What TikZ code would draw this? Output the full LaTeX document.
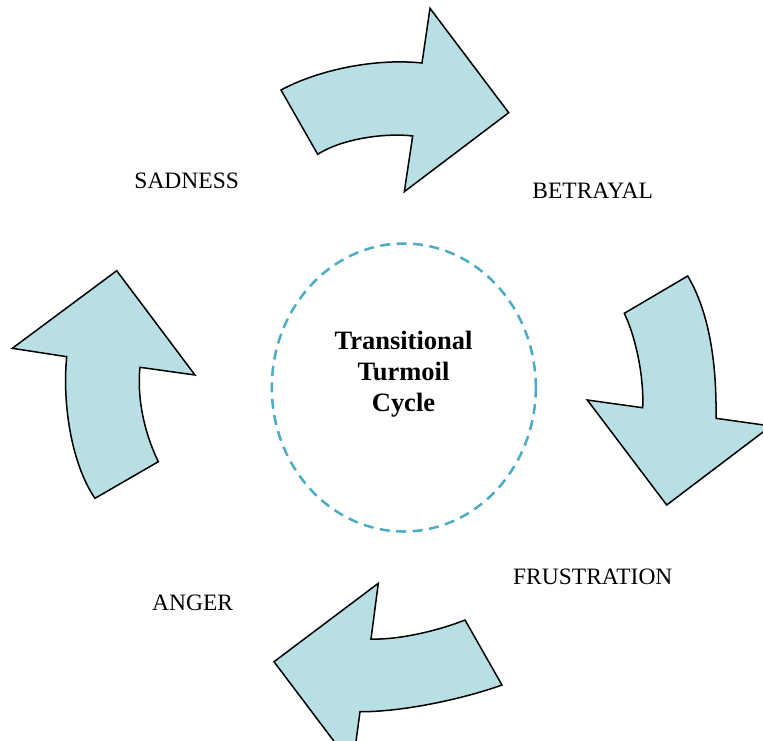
\documentclass[tikz,border=0pt]{standalone}
\usepackage{fontspec}
\setmainfont{Liberation Serif}
\usepackage{xcolor}
\definecolor{arrowfill}{HTML}{B8DFE3}
\definecolor{ringblue}{HTML}{4BACC6}
\usetikzlibrary{positioning}

\begin{document}
\begin{tikzpicture}[x=1pt, y=-1pt,
  cyclearrow/.style={draw=black, line width=1.5pt, line join=miter, fill=arrowfill},
  stagelabel/.style={font=\fontsize{23.5}{28}\selectfont, inner sep=0pt}]
\useasboundingbox (0,0) rectangle (763,740);
\clip (0,0) rectangle (763,740);
% centre ring
\draw[ringblue, line width=2.5pt, dash pattern=on 10pt off 6.5pt] (403.8,387.5) ellipse [x radius=132, y radius=144];
\node[font=\fontsize{26.5}{31}\selectfont\bfseries, align=center] (cycle) at (403.5,374)
  {Transitional\\Turmoil\\Cycle};
% top arrow
\draw[cyclearrow] (281,90) .. controls (318,70) and (375,58) .. (422,63)
  -- (430,8.3) -- (508.7,112.7) -- (404.3,191.7) -- (412.7,136)
  .. controls (390,133) and (345,137) .. (317.7,154.3) -- cycle;
% right arrow
\draw[cyclearrow] (687.7,276) .. controls (705,305) and (717,350) .. (716,418.3)
  -- (771,426) -- (666.7,505) -- (587.3,400) -- (642.7,407.7)
  .. controls (644,380) and (637,340) .. (624.3,313.3) -- cycle;
% bottom arrow
\draw[cyclearrow] (465,620) .. controls (440,630) and (400,640) .. (371,639)
  -- (378.3,583.3) -- (274,661.7) -- (352.7,766) -- (360,711.7)
  .. controls (400,712) and (460,700) .. (502,685) -- cycle;
% left arrow
\draw[cyclearrow] (116.7,270.7) -- (195,375) -- (140,367.3)
  .. controls (137,395) and (143,430) .. (158.3,461.7)
  -- (95,498.3) .. controls (72,465) and (62,405) .. (66.7,356.7)
  -- (12.3,348.3) -- cycle;
% stage labels
\node[stagelabel] (sadness) at (186.7,181) {SADNESS};
\node[stagelabel] (betrayal) at (592.7,191) {BETRAYAL};
\node[stagelabel] (frustration) at (592.8,577) {FRUSTRATION};
\node[stagelabel] (anger) at (192.7,603) {ANGER};
\end{tikzpicture}
\end{document}
